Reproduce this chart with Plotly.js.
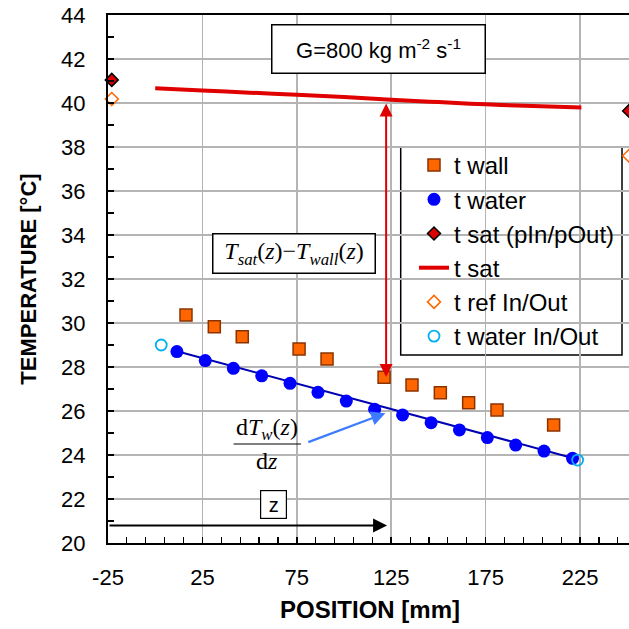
<!DOCTYPE html>
<html>
<head>
<meta charset="utf-8">
<script src="https://cdn.plot.ly/plotly-3.0.1.min.js"></script>
<style>
html,body{margin:0;padding:0;overflow:hidden;background:#fff;}
#chart{width:700px;height:629px;}
</style>
</head>
<body>
<div id="chart"></div>
<script>
// ---- data ----
var wallX  = [16.3, 31.3, 46.1, 76.2, 91.0, 121.2, 136.0, 151.0, 166.0, 181.0, 211.0];
var wallY  = [30.36, 29.83, 29.38, 28.82, 28.36, 27.53, 27.18, 26.83, 26.38, 26.05, 25.36];

var waterX = [11.5, 26.5, 41.4, 56.4, 71.4, 86.2, 101.2, 116.2, 131.0, 146.1, 161.1, 175.9, 190.9, 205.9, 221.0];
var waterY = [28.70, 28.29, 27.94, 27.60, 27.26, 26.85, 26.45, 26.08, 25.82, 25.47, 25.14, 24.79, 24.45, 24.18, 23.85];

var waterFitX = [11.5, 222.5];
var waterFitY = [28.72, 23.83];

var satPX = [-23, 251];
var satPY = [41.05, 39.64];

var satX = [0, 25, 50, 75, 100, 125, 150, 175, 200, 225.7];
var satY = [40.67, 40.57, 40.47, 40.37, 40.27, 40.15, 40.04, 39.94, 39.86, 39.80];

var refIOX = [-23, 251];
var refIOY = [40.18, 37.6];

var waterIOX = [3.2, 223.7];
var waterIOY = [29.0, 23.77];

var legendNames = ['t wall', 't water', 't sat (pIn/pOut)', 't sat', 't ref In/Out', 't water In/Out'];
var xTicks = [-25, 25, 75, 125, 175, 225];
var yTicks = [20, 22, 24, 26, 28, 30, 32, 34, 36, 38, 40, 42, 44];

var SANS = 'Liberation Sans, Arial, sans-serif';
var SERIF = 'Liberation Serif, Times New Roman, serif';

var traces = [
  {x: waterFitX, y: waterFitY, mode: 'lines', showlegend: false, hoverinfo: 'skip',
   line: {color: '#0000B0', width: 2}},
  {x: wallX, y: wallY, mode: 'markers', name: legendNames[0],
   marker: {symbol: 'square', size: 12, color: '#FF6600', line: {color: '#8B3300', width: 1.5}}},
  {x: waterX, y: waterY, mode: 'markers', name: legendNames[1],
   marker: {symbol: 'circle', size: 13, color: '#0000FF', line: {width: 0}}},
  {x: satPX, y: satPY, mode: 'markers', name: legendNames[2], cliponaxis: false,
   marker: {symbol: 'diamond', size: 10, color: '#DD0000', line: {color: '#000000', width: 1.5}}},
  {x: satX, y: satY, mode: 'lines', name: legendNames[3],
   line: {color: '#E00000', width: 4, shape: 'spline'}},
  {x: refIOX, y: refIOY, mode: 'markers', name: legendNames[4], cliponaxis: false,
   marker: {symbol: 'diamond-open', size: 10, color: '#FF6600', line: {color: '#FF6600', width: 1.5}}},
  {x: waterIOX, y: waterIOY, mode: 'markers', name: legendNames[5], cliponaxis: false,
   marker: {symbol: 'circle-open', size: 11, color: '#00B0F0', line: {color: '#00B0F0', width: 1.8}}}
];

var PL = 108, PW = 524, PT = 15, PH = 528;
function px2paperX(p) { return (p - PL) / PW; }
function px2paperY(p) { return (PT + PH - p) / PH; }

var layout = {
  width: 700, height: 629,
  margin: {l: PL, r: 700 - PL - PW, t: PT, b: 629 - PT - PH},
  paper_bgcolor: '#ffffff', plot_bgcolor: '#ffffff',
  font: {family: SANS, size: 22, color: '#000'},
  xaxis: {
    range: [-25, 252.5], tickmode: 'array', tickvals: xTicks, ticktext: xTicks.map(String),
    showgrid: true, gridcolor: '#B4B4B4', gridwidth: 1.5,
    showline: true, linecolor: '#000', linewidth: 2, mirror: true,
    ticks: 'inside', ticklen: 6, tickcolor: '#000', tickwidth: 1.5,
    minor: {dtick: 10, tick0: -25, ticks: 'inside', ticklen: 6, tickcolor: '#000', tickwidth: 1.2, showgrid: false},
    tickfont: {family: SANS, size: 22}, ticklabelstandoff: 14,
    zeroline: false,
    title: {text: 'POSITION [mm]', font: {family: SANS, size: 24, weight: 'bold'}, standoff: 12}
  },
  yaxis: {
    range: [20, 44], tickmode: 'array', tickvals: yTicks, ticktext: yTicks.map(String),
    showgrid: true, gridcolor: '#B4B4B4', gridwidth: 1.5,
    showline: true, linecolor: '#000', linewidth: 2, mirror: true,
    ticks: 'inside', ticklen: 6, tickcolor: '#000', tickwidth: 1.5,
    minor: {dtick: 1, tick0: 20, ticks: 'inside', ticklen: 6, tickcolor: '#000', tickwidth: 1.2, showgrid: false},
    tickfont: {family: SANS, size: 22}, ticklabelstandoff: 16,
    zeroline: false,
    title: {text: 'TEMPERATURE [°C]', font: {family: SANS, size: 22, weight: 'bold'}, standoff: 18}
  },
  legend: {
    x: px2paperX(414), y: px2paperY(143), xanchor: 'left', yanchor: 'top',
    bgcolor: 'rgba(0,0,0,0)', borderwidth: 0,
    font: {family: SANS, size: 24, color: '#000'},
    itemwidth: 30
  },
  shapes: [
    // legend frame
    {type: 'rect', xref: 'paper', yref: 'paper', layer: 'between',
     x0: px2paperX(400.7), x1: px2paperX(622), y0: px2paperY(355), y1: px2paperY(147),
     fillcolor: '#ffffff', line: {color: '#000', width: 1.5}},
    // fraction bar
    {type: 'line', xref: 'x', yref: 'y', x0: 41.5, x1: 77.2, y0: 24.5, y1: 24.5,
     line: {color: '#000', width: 1.2}}
  ],
  annotations: [
    {xref: 'x', yref: 'y', x: 118.1, y: 42.47, showarrow: false,
     text: 'G=800 kg m<sup>-2</sup> s<sup>-1</sup>', font: {family: SANS, size: 22, color: '#000'},
     bordercolor: '#000', borderwidth: 1.5, borderpad: 0, width: 212, height: 47, bgcolor: '#fff'},
    {xref: 'x', yref: 'y', x: 73.7, y: 33.15, showarrow: false,
     text: '<i>T</i><sub><i>sat</i></sub>(<i>z</i>)−<i>T</i><sub><i>wall</i></sub>(<i>z</i>)',
     font: {family: SERIF, size: 24, color: '#000'},
     bordercolor: '#000', borderwidth: 1.5, borderpad: 0, width: 161, height: 38, bgcolor: '#fff'},
    {xref: 'x', yref: 'y', x: 59.2, y: 25.2, showarrow: false,
     text: 'd<i>T</i><sub><i>w</i></sub>(<i>z</i>)', font: {family: SERIF, size: 24, color: '#000'}},
    {xref: 'x', yref: 'y', x: 59.2, y: 23.72, showarrow: false,
     text: 'd<i>z</i>', font: {family: SERIF, size: 24, color: '#000'}},
    {xref: 'x', yref: 'y', x: 62.4, y: 21.73, showarrow: false,
     text: 'z', font: {family: SANS, size: 20, color: '#000'},
     bordercolor: '#000', borderwidth: 1.2, borderpad: 0, width: 25, height: 27, bgcolor: '#fff'},
    // z direction arrow
    {xref: 'x', yref: 'y', axref: 'x', ayref: 'y', x: 122.8, y: 20.8, ax: -25, ay: 20.8,
     text: '', showarrow: true, arrowhead: 2, arrowsize: 1.4, arrowwidth: 2, arrowcolor: '#000'},
    // Tsat - Twall double arrow
    {xref: 'x', yref: 'y', axref: 'x', ayref: 'y', x: 122.3, y: 27.55, ax: 122.3, ay: 40.05,
     text: '', showarrow: true, arrowhead: 2, startarrowhead: 2, arrowside: 'end+start',
     arrowsize: 1.3, startarrowsize: 1.3, arrowwidth: 2, arrowcolor: '#E00000'},
    // dTw/dz arrow
    {xref: 'x', yref: 'y', axref: 'x', ayref: 'y', x: 121.9, y: 25.9, ax: 80.3, ay: 24.56,
     text: '', showarrow: true, arrowhead: 2, arrowsize: 1.3, arrowwidth: 2.2, arrowcolor: '#3D7BFF'}
  ]
};

Plotly.newPlot('chart', traces, layout, {staticPlot: true, displayModeBar: false});
</script>
</body>
</html>
